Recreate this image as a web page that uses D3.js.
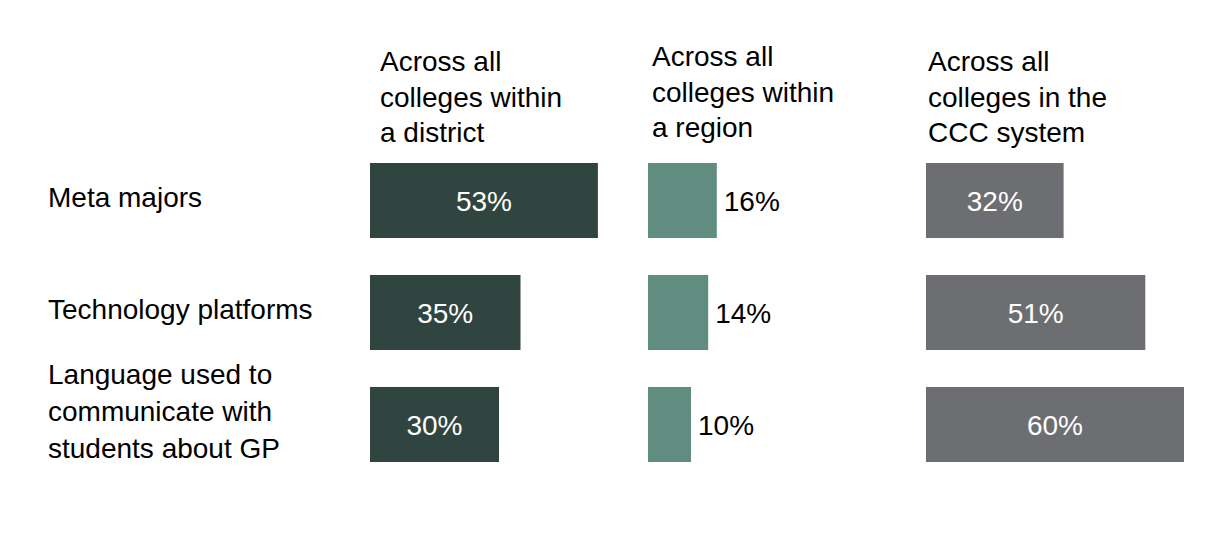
<!DOCTYPE html>
<html>
<head>
<meta charset="utf-8">
<script src="https://cdn.jsdelivr.net/npm/d3@7/dist/d3.min.js"></script>
<style>
  body { margin: 0; background: #fff; }
  svg { display: block; font-family: "Liberation Sans", Arial, sans-serif; }
</style>
</head>
<body>
<svg id="mySVG" width="1207" height="533"></svg>
<script>
var categories = [
  ["Meta majors"],
  ["Technology platforms"],
  ["Language used to", "communicate with", "students about GP"]
]
var groupHeaders = [
  ["Across all", "colleges within", "a district"],
  ["Across all", "colleges within", "a region"],
  ["Across all", "colleges in the", "CCC system"]
]
var districtValues = [53, 35, 30]
var regionValues = [16, 14, 10]
var systemValues = [32, 51, 60]

var series = [districtValues, regionValues, systemValues]
var colors = ["#30453f", "#618d80", "#6d6e72"]

var MySVG = d3.select("#mySVG")
var fontSize = 28

//---one x scale shared by all three groups, each group shifted---
var x = d3.scaleLinear().domain([0, 60]).range([0, 258])
var groupX = d3.scalePoint().domain([0, 1, 2]).range([370, 926])

var y = d3.scaleBand()
  .domain(d3.range(categories.length))
  .range([163, 462])
  .paddingInner(0.33)
  .paddingOuter(0)

//---row labels---
var rowG = MySVG.append("g").attr("id", "rowLabels")
categories.forEach(function(lines, i) {
  var n = lines.length
  var lh = 37
  var cy = y(i) + y.bandwidth() / 2 - 3 - (n - 1) * 4.5
  var t = rowG.append("text")
    .attr("x", 48)
    .attr("font-size", fontSize)
    .attr("fill", "#000")
  lines.forEach(function(s, k) {
    t.append("tspan")
      .attr("x", 48)
      .attr("y", cy + 9 - (n - 1) * lh / 2 + k * lh)
      .text(s)
  })
})

//---group headers---
var headG = MySVG.append("g").attr("id", "headers")
var headDx = [10, 4, 2]
groupHeaders.forEach(function(lines, g) {
  var t = headG.append("text")
    .attr("font-size", fontSize)
    .attr("fill", "#000")
  lines.forEach(function(s, k) {
    t.append("tspan")
      .attr("x", groupX(g) + headDx[g])
      .attr("y", (g === 1 ? 66 : 71) + k * 35.5)
      .text(s)
  })
})

//---bars + value labels---
series.forEach(function(vals, g) {
  var gx = groupX(g)
  var barG = MySVG.append("g").attr("class", "group" + g)
  barG.selectAll("rect")
    .data(vals)
    .enter().append("rect")
    .attr("x", gx)
    .attr("y", function(d, i) { return y(i) })
    .attr("width", function(d) { return x(d) })
    .attr("height", y.bandwidth())
    .attr("fill", colors[g])

  var inside = g !== 1
  barG.selectAll("text")
    .data(vals)
    .enter().append("text")
    .attr("x", function(d) { return inside ? gx + x(d) / 2 : gx + x(d) + 7 })
    .attr("y", function(d, i) { return y(i) + y.bandwidth() / 2 })
    .attr("dy", "0.36em")
    .attr("text-anchor", inside ? "middle" : "start")
    .attr("font-size", fontSize)
    .attr("fill", inside ? "#fff" : "#000")
    .text(function(d) { return d + "%" })
})
</script>
</body>
</html>
